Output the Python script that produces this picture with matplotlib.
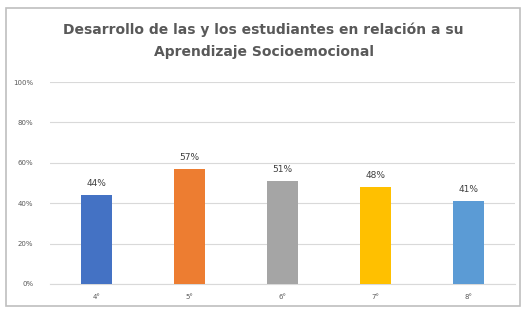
import matplotlib
matplotlib.use("Agg")
import matplotlib.pyplot as plt
from matplotlib.patches import FancyBboxPatch
from matplotlib.ticker import PercentFormatter

categories = ["4°", "5°", "6°", "7°", "8°"]
values = [44, 57, 51, 48, 41]
colors = ["#4472C4", "#ED7D31", "#A5A5A5", "#FFC000", "#5B9BD5"]
title = "Desarrollo de las y los estudiantes en relación a su\nAprendizaje Socioemocional"

fig = plt.figure(figsize=(5.27, 3.14), dpi=100)
fig.patch.set_facecolor("white")
border = FancyBboxPatch((6/527, 8/314), 514/527, 298/314, boxstyle="square,pad=0",
                        transform=fig.transFigure, fill=False, edgecolor="#BFBFBF", lw=1.2)
fig.patches.append(border)

ax = fig.add_axes([50/527, (314-284)/314, 465/527, (284-82)/314])
x = range(len(categories))
bars = ax.bar(x, values, width=0.33, color=colors, zorder=3)
for xi, v in zip(x, values):
    ax.text(xi, v + 3.5, f"{v}%", ha="center", va="bottom", fontsize=6.5, color="#404040")
ax.set_ylim(0, 100)
ax.set_xlim(-0.5, len(categories) - 0.5)
ax.set_yticks([0, 20, 40, 60, 80, 100])
ax.yaxis.set_major_formatter(PercentFormatter(decimals=0))
ax.set_xticks(list(x))
ax.set_xticklabels(categories)
ax.tick_params(axis="both", length=0, labelsize=5, colors="#595959")
ax.tick_params(axis="y", pad=12)
ax.tick_params(axis="x", pad=7)
ax.grid(axis="y", color="#D9D9D9", lw=0.8, zorder=0)
for s in ["top", "right", "left"]:
    ax.spines[s].set_visible(False)
ax.spines["bottom"].set_color("#D9D9D9")
fig.text(0.5, 1 - 41/314, title, ha="center", va="center", fontsize=10,
         fontweight="bold", color="#595959", linespacing=1.75)
fig.savefig("out.png", dpi=100)
